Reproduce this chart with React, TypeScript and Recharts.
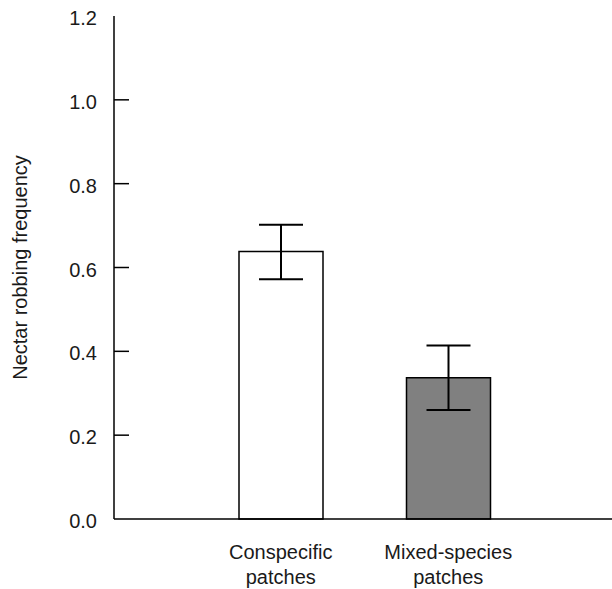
import { BarChart, Bar, XAxis, YAxis, ErrorBar, Cell } from 'recharts'

const categories = ['Conspecific patches', 'Mixed-species patches']
const means = [0.638, 0.337]
const errLow = [0.066, 0.077]
const errHigh = [0.064, 0.077]
const fills = ['#ffffff', '#808080']
const yTicks = [0, 0.2, 0.4, 0.6, 0.8, 1.0, 1.2]

const data = categories.map((c, i) => ({
  name: c,
  value: means[i],
  err: [errLow[i], errHigh[i]],
}))

const FONT = 'Liberation Sans, Arial, sans-serif'

const YTick = ({ x, y, payload }: any) => {
  const v = payload.value
  return (
    <g>
      {v > 0 && v < 1.2 && <line x1={x} y1={y} x2={x + 15} y2={y} stroke="#000" strokeWidth={1.5} />}
      <text x={x - 17} y={y} dy={9} textAnchor="end" fontSize={20} fontFamily={FONT} fill="#1a1a1a">
        {v.toFixed(1)}
      </text>
    </g>
  )
}

const XTick = ({ x, y, payload }: any) => {
  const words = String(payload.value).split(' ')
  return (
    <text x={x} y={y} textAnchor="middle" fontSize={20} fontFamily={FONT} fill="#1a1a1a">
      <tspan x={x} dy={38}>{words[0]}</tspan>
      <tspan x={x} dy={25}>{words[1]}</tspan>
    </text>
  )
}

export default function App() {
  return (
    <div style={{ position: 'absolute', left: 0, top: 0, background: '#fff' }}>
      <BarChart width={612} height={589} data={data} margin={{ top: 16, right: 0, left: 0, bottom: 0 }}>
        <XAxis
          dataKey="name"
          height={70}
          tick={<XTick />}
          tickLine={false}
          tickSize={0}
          interval={0}
          padding={{ left: 83, right: 80 }}
          axisLine={{ stroke: '#000', strokeWidth: 1.5 }}
        />
        <YAxis
          width={114}
          domain={[0, 1.2]}
          ticks={yTicks}
          tick={<YTick />}
          tickLine={false}
          tickSize={0}
          tickMargin={0}
          axisLine={{ stroke: '#000', strokeWidth: 1.5 }}
          label={{
            value: 'Nectar robbing frequency',
            angle: -90,
            position: 'insideLeft',
            offset: 0,
            dx: 20,
            style: { fontSize: 20, fontFamily: FONT, fill: '#1a1a1a', textAnchor: 'middle' },
          }}
        />
        <Bar dataKey="value" barSize={84} stroke="#000" strokeWidth={1.5} isAnimationActive={false}>
          {data.map((d, i) => <Cell key={i} fill={fills[i]} />)}
          <ErrorBar dataKey="err" width={22} stroke="#000" strokeWidth={2} isAnimationActive={false} />
        </Bar>
      </BarChart>
    </div>
  )
}
